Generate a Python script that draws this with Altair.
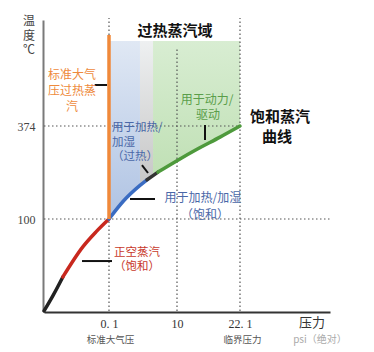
import altair as alt
import pandas as pd

# ---------------- data ----------------
# saturation curve: pressure (MPa) and temperature (°C)
curve_p = [0, 0.014, 0.029, 0.060, 0.080, 0.1, 2.14, 4.61, 5.63, 6.51, 7.23, 10, 13.84, 18.26, 22.1]
curve_t = [0, 17, 37, 70, 86, 100, 151.6, 199, 215.5, 227.9, 238.2, 271.8, 305.3, 341.3, 374]

seg_names = ["真空低段", "正空蒸汽", "加热加湿", "过渡", "动力驱动"]
seg_start = [0, 2, 5, 8, 10]
seg_end = [2, 5, 8, 10, 14]
seg_colors = ["#222222", "#c8281e", "#3a6cc2", "#333333", "#4e9a3c"]

fill_names = ["blue", "gray", "green"]
fill_start = [5, 7, 9]
fill_end = [7, 9, 14]
fill_top = [459, 459, 459]
fill_top_colors = ["#e0e8f4", "#eef0f1", "#d8edd2"]
fill_bottom_colors = ["#afc3e3", "#c6c6c6", "#c0e0b5"]

# axis ticks
x_tick_values = [0.1, 10, 22.1]
x_tick_labels = ["0. 1", "10", "22. 1"]
y_tick_values = [100, 374]

# dotted guide lines
guide_p1 = [0, 0, 0.1, 10, 22.1]
guide_p2 = [22.1, 40, 0.1, 10, 22.1]
guide_t1 = [374, 100, 0, 0, 0]
guide_t2 = [374, 100, 482, 453, 482]

# orange atmospheric-pressure superheated line
orange_p = [0.1]
orange_t1 = [100]
orange_t2 = [465]

# pointer lines
ptr_p1 = [0.078, 15.38, 4.90, 3.16, 0.0585]
ptr_p2 = [0.097, 15.38, 5.78, 6.80, 0.537]
ptr_t1 = [415, 375, 259, 158.9, 54.3]
ptr_t2 = [415, 332.7, 235.5, 158.9, 54.3]

# annotation lines
ann_text = ["温", "度", "℃",
            "标准大气", "压过热蒸", "汽",
            "过热蒸汽域",
            "饱和蒸汽", "曲线",
            "用于动力/", "驱动",
            "用于加热/", "加湿", "（过热）",
            "用于加热/加湿", "（饱和）",
            "正空蒸汽", "（饱和）",
            "标准大气压", "临界压力",
            "压力", "psi（绝对）"]
ann_p = [-0.0231, -0.0231, -0.0231,
         0.0431, 0.0431, 0.0431,
         9.71,
         30.06, 29.46,
         15.76, 15.95,
         0.537, 0.537, 0.537,
         14.99, 15.38,
         4.18, 4.18,
         0.32, 22.6,
         36.4, 38.0]
ann_t = [479, 464, 450,
         425, 409, 393,
         469,
         383, 341.6,
         400, 385,
         368, 324, 282.7,
         161.9, 111.8,
         63, 47.8,
         -31.5, -31.5,
         -13, -31.5]
ann_style = ["ytitle"] * 3 + ["orange"] * 3 + ["bold"] + ["bold"] * 2 + ["green"] * 2 + ["blue_left"] * 3 + \
            ["blue"] * 2 + ["red"] * 2 + ["small"] * 2 + ["xtitle", "faint"]

styles = {
    "ytitle": dict(color="#444444", fontSize=12, fontWeight="normal", align="center"),
    "orange": dict(color="#ee8a3c", fontSize=12, fontWeight="normal", align="center"),
    "bold": dict(color="#111111", fontSize=15, fontWeight="bold", align="center"),
    "green": dict(color="#5a9e4a", fontSize=12, fontWeight="normal", align="center"),
    "blue_left": dict(color="#4a68a8", fontSize=11.5, fontWeight="normal", align="left"),
    "blue": dict(color="#4a68a8", fontSize=12, fontWeight="normal", align="center"),
    "red": dict(color="#c8392b", fontSize=11.5, fontWeight="normal", align="center"),
    "small": dict(color="#555555", fontSize=9.5, fontWeight="normal", align="center"),
    "xtitle": dict(color="#333333", fontSize=13, fontWeight="normal", align="center"),
    "faint": dict(color="#aaaaaa", fontSize=10, fontWeight="normal", align="center"),
}

# ---------------- scales & axes ----------------
CJK = "Noto Sans CJK SC"
x_scale = alt.Scale(domain=[0, 0.1, 10, 22.1, 40], range=[1, 66, 134, 197, 287], nice=False, zero=False)
y_scale = alt.Scale(domain=[0, 100, 374, 480], range=[311, 219, 126, 20], nice=False, zero=False)

label_expr = " : ".join(
    f"datum.value == {v} ? '{l}'" for v, l in zip(x_tick_values, x_tick_labels)
) + " : ''"

x_axis = alt.Axis(values=x_tick_values, labelExpr=label_expr, title=None, ticks=False, grid=False,
                  domainColor="#333333", domainWidth=2, labelFont="Liberation Serif", labelFontSize=12,
                  labelColor="#333333", labelPadding=6, labelOverlap=False)
y_axis = alt.Axis(values=y_tick_values, title=None, ticks=False, grid=False,
                  domainColor="#7a7a7a", domainWidth=2,
                  labelFont="Liberation Serif", labelFontSize=12, labelColor="#444444", labelPadding=8)


def X(f):
    return alt.X(f, type="quantitative", scale=x_scale, axis=x_axis)


def Y(f):
    return alt.Y(f, type="quantitative", scale=y_scale, axis=y_axis)


layers = []

# fills
for name, s, e, top, c0, c1 in zip(fill_names, fill_start, fill_end, fill_top, fill_top_colors, fill_bottom_colors):
    df = pd.DataFrame({"p": curve_p[s:e + 1], "t": curve_t[s:e + 1], "top": [top] * (e - s + 1)})
    grad = alt.Gradient(gradient="linear", x1=0, x2=0, y1=0, y2=1,
                        stops=[alt.GradientStop(color=c0, offset=0), alt.GradientStop(color=c1, offset=1)])
    layers.append(alt.Chart(df).mark_area(color=grad, interpolate="monotone").encode(
        x=X("p"), y=Y("t"), y2="top"))

# dotted guides
guides = pd.DataFrame({"p1": guide_p1, "p2": guide_p2, "t1": guide_t1, "t2": guide_t2})
layers.append(alt.Chart(guides).mark_rule(color="#555555", strokeWidth=1.2, strokeDash=[1.5, 2.5]).encode(
    x=X("p1"), x2="p2", y=Y("t1"), y2="t2"))

# saturation curve segments
rows = []
for name, s, e in zip(seg_names, seg_start, seg_end):
    for i in range(s, e + 1):
        rows.append({"seg": name, "p": curve_p[i], "t": curve_t[i], "i": i})
curve = pd.DataFrame(rows)
layers.append(alt.Chart(curve).mark_line(interpolate="monotone", strokeWidth=3.5, strokeCap="round").encode(
    x=X("p"), y=Y("t"),
    color=alt.Color("seg:N", scale=alt.Scale(domain=seg_names, range=seg_colors), legend=None),
    order="i:Q"))

# orange line
orange = pd.DataFrame({"p": orange_p, "t1": orange_t1, "t2": orange_t2})
layers.append(alt.Chart(orange).mark_rule(color="#f0893a", strokeWidth=3.5).encode(
    x=X("p"), y=Y("t1"), y2="t2"))

# pointers
ptr = pd.DataFrame({"p1": ptr_p1, "p2": ptr_p2, "t1": ptr_t1, "t2": ptr_t2})
layers.append(alt.Chart(ptr).mark_rule(color="#111111", strokeWidth=2).encode(
    x=X("p1"), x2="p2", y=Y("t1"), y2="t2"))

# annotations
ann = pd.DataFrame({"text": ann_text, "p": ann_p, "t": ann_t, "style": ann_style})
for sname, st in styles.items():
    sub = ann[ann["style"] == sname]
    layers.append(alt.Chart(sub).mark_text(font=CJK, baseline="middle", **st).encode(
        x=X("p"), y=Y("t"), text="text:N"))

chart = alt.layer(*layers).properties(
    width=331, height=312,
    padding={"left": 43, "top": 0, "right": 0, "bottom": 40},
    autosize=alt.AutoSizeParams(type="none"),
    background="white",
).configure_view(stroke=None)

chart.save("out.html", embed_options={"renderer": "svg", "actions": False})
